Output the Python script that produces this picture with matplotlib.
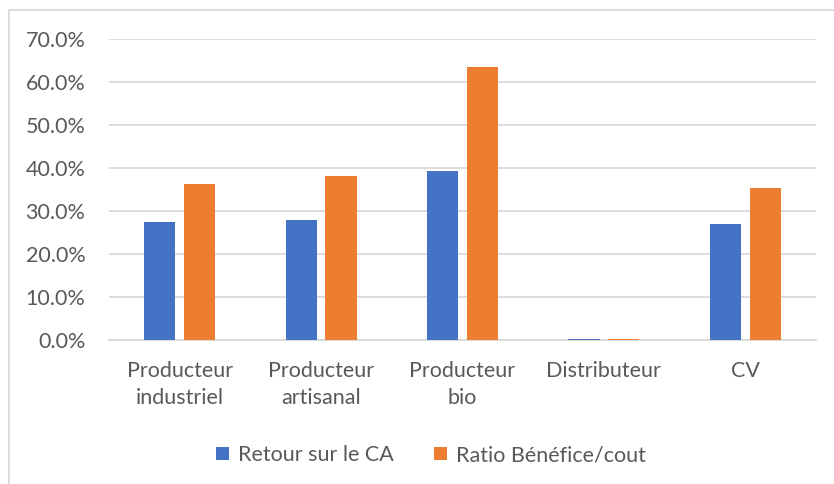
import numpy as np
import matplotlib.pyplot as plt
from matplotlib.patches import Rectangle
from matplotlib.ticker import FuncFormatter

# Données
categories = ["Producteur\nindustriel", "Producteur\nartisanal", "Producteur\nbio",
              "Distributeur", "CV"]
retour_ca = [0.275, 0.280, 0.393, 0.002, 0.270]
ratio_bc = [0.362, 0.381, 0.635, 0.002, 0.353]
series_names = ["Retour sur le CA", "Ratio Bénéfice/cout"]

blue = "#4472C4"
orange = "#ED7D31"
grid_col = "#D9D9D9"
text_col = "#595959"

plt.rcParams['font.family'] = ['Lato', 'DejaVu Sans']

fig = plt.figure(figsize=(8.34, 4.84), dpi=100)
ax = fig.add_axes([109 / 834, 1 - 340 / 484, (816 - 109) / 834, (340 - 39) / 484])

x = np.arange(len(categories))
w = 0.22
off = 0.141
ax.bar(x - off, retour_ca, w, color=blue, label=series_names[0], zorder=3)
ax.bar(x + off, ratio_bc, w, color=orange, label=series_names[1], zorder=3)

ax.set_xlim(-0.5, len(categories) - 0.5)
ax.set_ylim(0, 0.7)
ax.set_yticks(np.arange(0, 0.71, 0.1))
ax.yaxis.set_major_formatter(FuncFormatter(lambda v, p: f"{v * 100:.1f}%"))
ax.yaxis.grid(True, color=grid_col, linewidth=1.3, zorder=0)
ax.set_axisbelow(True)

ax.set_xticks(x)
ax.set_xticklabels(categories, linespacing=1.45)
ax.tick_params(axis='both', length=0, labelsize=15.5, colors=text_col)
ax.tick_params(axis='x', pad=15)
ax.tick_params(axis='y', pad=17)

for s in ["top", "right", "left"]:
    ax.spines[s].set_visible(False)
ax.spines["bottom"].set_color(grid_col)
ax.spines["bottom"].set_linewidth(1.3)

leg = fig.legend(loc="center", bbox_to_anchor=(431 / 834, 1 - 455 / 484), ncol=2,
                 frameon=False, fontsize=15.5, handlelength=0.6, handleheight=0.6,
                 handletextpad=0.4, columnspacing=1.9)
for t in leg.get_texts():
    t.set_color(text_col)

# cadre du graphique
fig.patches.append(Rectangle((9 / 834, -0.05), 1.1, 1 - 10 / 484 + 0.05,
                             transform=fig.transFigure, fill=False,
                             edgecolor=grid_col, linewidth=1.3))

fig.savefig("out.png", dpi=100)
